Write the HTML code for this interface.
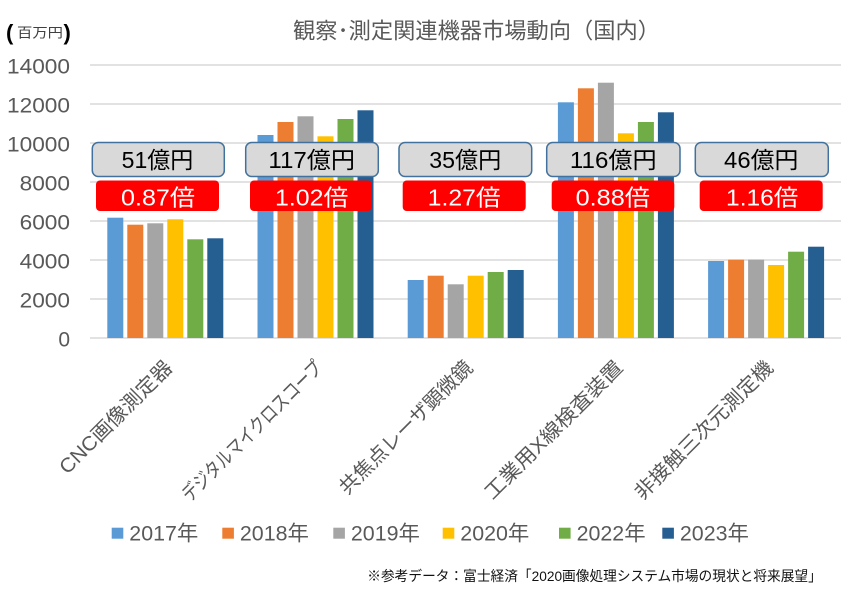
<!DOCTYPE html>
<html><head><meta charset="utf-8"><style>
html,body{margin:0;padding:0;background:#fff;}
svg{display:block;}
text{font-family:"Liberation Sans","Noto Sans CJK JP",sans-serif;}
</style></head><body>
<svg width="854" height="593" viewBox="0 0 854 593" xmlns="http://www.w3.org/2000/svg">
<rect x="0" y="0" width="854" height="593" fill="#fff"/>
<!-- title -->
<text x="293" y="38.5" font-size="22" fill="#595959" textLength="367" lengthAdjust="spacingAndGlyphs">観察･測定関連機器市場動向（国内）</text>
<!-- unit -->
<text x="6" y="40" font-size="22" font-weight="bold" fill="#000">(</text>
<text x="17" y="37.5" font-size="13.5" fill="#404040" textLength="46" lengthAdjust="spacingAndGlyphs">百万円</text>
<text x="63.5" y="40" font-size="22" font-weight="bold" fill="#000">)</text>
<!-- gridlines -->
<g stroke="#d9d9d9" stroke-width="1.5">
<line x1="90" y1="65" x2="841" y2="65"/>
<line x1="90" y1="104" x2="841" y2="104"/>
<line x1="90" y1="143" x2="841" y2="143"/>
<line x1="90" y1="182" x2="841" y2="182"/>
<line x1="90" y1="221" x2="841" y2="221"/>
<line x1="90" y1="260" x2="841" y2="260"/>
<line x1="90" y1="299" x2="841" y2="299"/>
<line x1="90" y1="338" x2="841" y2="338"/>
</g>
<!-- y labels -->
<g font-size="21" fill="#595959" text-anchor="end">
<text x="70" y="73.3" textLength="63" lengthAdjust="spacingAndGlyphs">14000</text>
<text x="70" y="112.3" textLength="63" lengthAdjust="spacingAndGlyphs">12000</text>
<text x="70" y="151.3" textLength="63" lengthAdjust="spacingAndGlyphs">10000</text>
<text x="70" y="190.3" textLength="50.4" lengthAdjust="spacingAndGlyphs">8000</text>
<text x="70" y="229.3" textLength="50.4" lengthAdjust="spacingAndGlyphs">6000</text>
<text x="70" y="268.3" textLength="50.4" lengthAdjust="spacingAndGlyphs">4000</text>
<text x="70" y="307.3" textLength="50.4" lengthAdjust="spacingAndGlyphs">2000</text>
<text x="70" y="346.3">0</text>
</g>
<!-- bars -->
<g>
<rect x="107.3" y="217.7" width="16" height="120.3" fill="#5b9bd5"/>
<rect x="127.3" y="224.7" width="16" height="113.3" fill="#ed7d31"/>
<rect x="147.3" y="223.3" width="16" height="114.7" fill="#a5a5a5"/>
<rect x="167.3" y="219.3" width="16" height="118.7" fill="#ffc000"/>
<rect x="187.3" y="239.3" width="16" height="98.7" fill="#70ad47"/>
<rect x="207.3" y="238.3" width="16" height="99.7" fill="#255e91"/>
<rect x="257.5" y="135" width="16" height="203" fill="#5b9bd5"/>
<rect x="277.5" y="122" width="16" height="216" fill="#ed7d31"/>
<rect x="297.5" y="116.3" width="16" height="221.7" fill="#a5a5a5"/>
<rect x="317.5" y="136.3" width="16" height="201.7" fill="#ffc000"/>
<rect x="337.5" y="119" width="16" height="219" fill="#70ad47"/>
<rect x="357.5" y="110.3" width="16" height="227.7" fill="#255e91"/>
<rect x="407.7" y="280" width="16" height="58" fill="#5b9bd5"/>
<rect x="427.7" y="275.7" width="16" height="62.3" fill="#ed7d31"/>
<rect x="447.7" y="284.3" width="16" height="53.7" fill="#a5a5a5"/>
<rect x="467.7" y="275.7" width="16" height="62.3" fill="#ffc000"/>
<rect x="487.7" y="272" width="16" height="66" fill="#70ad47"/>
<rect x="507.7" y="270" width="16" height="68" fill="#255e91"/>
<rect x="557.9" y="102.3" width="16" height="235.7" fill="#5b9bd5"/>
<rect x="577.9" y="88.3" width="16" height="249.7" fill="#ed7d31"/>
<rect x="597.9" y="82.7" width="16" height="255.3" fill="#a5a5a5"/>
<rect x="617.9" y="133.3" width="16" height="204.7" fill="#ffc000"/>
<rect x="637.9" y="122" width="16" height="216" fill="#70ad47"/>
<rect x="657.9" y="112.3" width="16" height="225.7" fill="#255e91"/>
<rect x="708.1" y="261" width="16" height="77" fill="#5b9bd5"/>
<rect x="728.1" y="259.7" width="16" height="78.3" fill="#ed7d31"/>
<rect x="748.1" y="259.7" width="16" height="78.3" fill="#a5a5a5"/>
<rect x="768.1" y="265" width="16" height="73" fill="#ffc000"/>
<rect x="788.1" y="251.7" width="16" height="86.3" fill="#70ad47"/>
<rect x="808.1" y="246.7" width="16" height="91.3" fill="#255e91"/>
</g>
<!-- gray boxes -->
<g fill="#d9d9d9" stroke="#41719c" stroke-width="1.5">
<rect x="92.3" y="142.5" width="132" height="34" rx="6"/>
<rect x="245.7" y="142.5" width="132.6" height="34" rx="6"/>
<rect x="399" y="142.5" width="132.7" height="34" rx="6"/>
<rect x="546.7" y="142.5" width="133.3" height="34" rx="6"/>
<rect x="695.3" y="142.5" width="133" height="34" rx="6"/>
</g>
<g font-size="23" fill="#000" text-anchor="middle">
<text x="157.5" y="168" textLength="71.7" lengthAdjust="spacingAndGlyphs">51億円</text>
<text x="311.7" y="168" textLength="86.7" lengthAdjust="spacingAndGlyphs">117億円</text>
<text x="465.3" y="168" textLength="72" lengthAdjust="spacingAndGlyphs">35億円</text>
<text x="613.3" y="168" textLength="86.7" lengthAdjust="spacingAndGlyphs">116億円</text>
<text x="761.2" y="168" textLength="74.3" lengthAdjust="spacingAndGlyphs">46億円</text>
</g>
<!-- red boxes -->
<g fill="#ff0000">
<rect x="96" y="180.5" width="123" height="30.5" rx="4"/>
<rect x="250" y="180.5" width="122" height="30.5" rx="4"/>
<rect x="402.7" y="180.5" width="123" height="30.5" rx="4"/>
<rect x="551.7" y="180.5" width="122.6" height="30.5" rx="4"/>
<rect x="699.7" y="180.5" width="123" height="30.5" rx="4"/>
</g>
<g font-size="23" fill="#fff" text-anchor="middle">
<text x="158" y="205.5" textLength="74" lengthAdjust="spacingAndGlyphs">0.87倍</text>
<text x="311.7" y="205.5" textLength="73.3" lengthAdjust="spacingAndGlyphs">1.02倍</text>
<text x="464.2" y="205.5" textLength="73" lengthAdjust="spacingAndGlyphs">1.27倍</text>
<text x="612.8" y="205.5" textLength="74.3" lengthAdjust="spacingAndGlyphs">0.88倍</text>
<text x="762.2" y="205.5" textLength="72.3" lengthAdjust="spacingAndGlyphs">1.16倍</text>
</g>
<!-- category labels -->
<g font-size="20" fill="#595959" text-anchor="end">
<text transform="translate(173.5,369) rotate(-45)" textLength="150" lengthAdjust="spacingAndGlyphs">CNC画像測定器</text>
<text transform="translate(323.7,369) rotate(-45)" textLength="189" lengthAdjust="spacingAndGlyphs">デジタルマイクロスコープ</text>
<text transform="translate(473.9,369) rotate(-45)" textLength="179" lengthAdjust="spacingAndGlyphs">共焦点レーザ顕微鏡</text>
<text transform="translate(624.1,369) rotate(-45)" textLength="186" lengthAdjust="spacingAndGlyphs">工業用X線検査装置</text>
<text transform="translate(774.3,369) rotate(-45)" textLength="186" lengthAdjust="spacingAndGlyphs">非接触三次元測定機</text>
</g>
<!-- legend -->
<g>
<rect x="111.7" y="527.7" width="11.6" height="11" fill="#5b9bd5"/>
<rect x="222.3" y="527.7" width="11.6" height="11" fill="#ed7d31"/>
<rect x="333.3" y="527.7" width="11.6" height="11" fill="#a5a5a5"/>
<rect x="442.7" y="527.7" width="11.6" height="11" fill="#ffc000"/>
<rect x="559" y="527.7" width="11.6" height="11" fill="#70ad47"/>
<rect x="662.3" y="527.7" width="11.6" height="11" fill="#255e91"/>
</g>
<g font-size="21" fill="#595959">
<text x="129.3" y="540.7" textLength="69" lengthAdjust="spacingAndGlyphs">2017年</text>
<text x="239.9" y="540.7" textLength="69" lengthAdjust="spacingAndGlyphs">2018年</text>
<text x="350.9" y="540.7" textLength="69" lengthAdjust="spacingAndGlyphs">2019年</text>
<text x="460.3" y="540.7" textLength="69" lengthAdjust="spacingAndGlyphs">2020年</text>
<text x="576.6" y="540.7" textLength="69" lengthAdjust="spacingAndGlyphs">2022年</text>
<text x="679.9" y="540.7" textLength="69" lengthAdjust="spacingAndGlyphs">2023年</text>
</g>
<!-- footnote -->
<text x="367.3" y="581" font-size="14" fill="#111" textLength="454.5" lengthAdjust="spacingAndGlyphs">※参考データ：富士経済「2020画像処理システム市場の現状と将来展望」</text>
</svg>
</body></html>
